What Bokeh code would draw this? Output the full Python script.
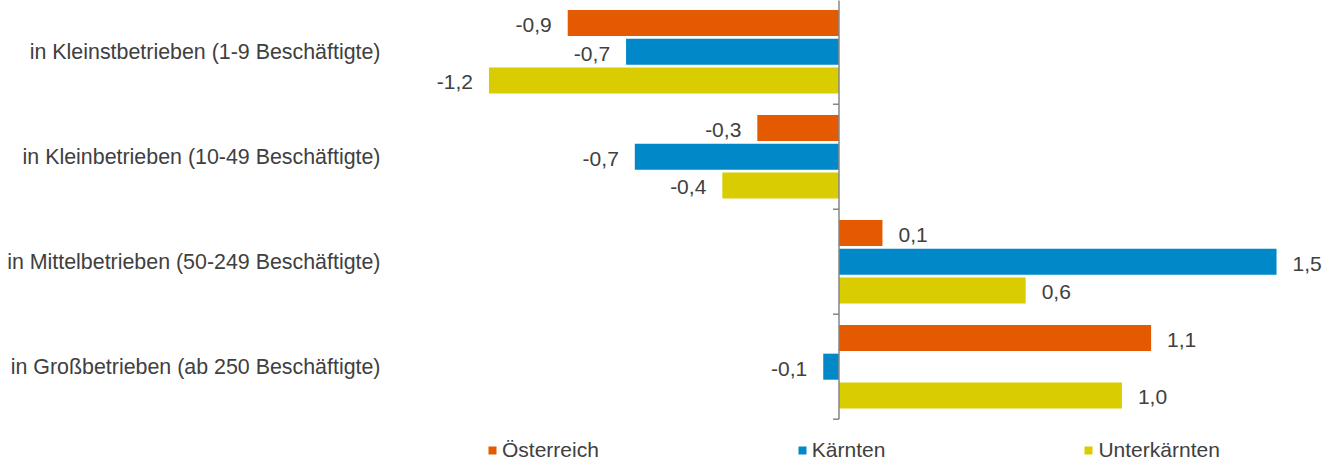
from bokeh.plotting import figure
from bokeh.models import Range1d, FixedTicker, Legend, LegendItem, ColumnDataSource
from bokeh.core.properties import value
from bokeh.embed import file_html
from bokeh.resources import INLINE
import math

categories = [
    "in Kleinstbetrieben (1-9 Beschäftigte)",
    "in Kleinbetrieben (10-49 Beschäftigte)",
    "in Mittelbetrieben (50-249 Beschäftigte)",
    "in Großbetrieben (ab 250 Beschäftigte)",
]
series_names = ["Österreich", "Kärnten", "Unterkärnten"]
oesterreich = [-0.93, -0.28, 0.149, 1.07]
kaernten = [-0.73, -0.70, 1.50, -0.054]
unterkaernten = [-1.20, -0.40, 0.64, 0.97]
colors = ["#E35A00", "#0088C9", "#D9CC00"]

FONT = "Liberation Sans"
TXT = "#404040"

p = figure(width=1333, height=461, output_backend="svg", toolbar_location=None,
           x_range=Range1d(-1.5444, 1.6953), y_range=Range1d(3.903, -0.4876),
           min_border_left=388, min_border_right=0, min_border_top=0, min_border_bottom=0)
p.outline_line_color = None
p.xgrid.visible = False
p.ygrid.visible = False
p.xaxis.visible = False

ax = p.yaxis[0]
ax.ticker = FixedTicker(ticks=list(range(len(categories))))
ax.major_label_overrides = {i: c for i, c in enumerate(categories)}
ax.axis_line_color = None
ax.major_tick_line_color = None
ax.minor_tick_line_color = None
ax.major_tick_out = 0
ax.major_label_standoff = 8
ax.major_label_text_font = FONT
ax.major_label_text_font_size = "21.4px"
ax.major_label_text_color = TXT

pitch = 0.274
bar_h = 0.248
all_series = [oesterreich, kaernten, unterkaernten]
items = []
for k, (name, vals, col) in enumerate(zip(series_names, all_series, colors)):
    ys = [i + (k - 1) * pitch for i in range(len(categories))]
    labels = [f"{v:.1f}".replace(".", ",") for v in vals]
    src = ColumnDataSource(dict(y=ys, v=vals, lab=labels,
                                align=["right" if v < 0 else "left" for v in vals],
                                xo=[-16 if v < 0 else 16 for v in vals]))
    r = p.hbar(y="y", left=0, right="v", height=bar_h, source=src,
               fill_color=col, line_color=None)
    items.append(LegendItem(label=name, renderers=[r]))
    p.text(x="v", y="y", text="lab", source=src, text_align="align",
           x_offset="xo", y_offset=2, text_baseline="middle",
           text_font=value(FONT), text_font_size="21px", text_color=TXT)

n = len(categories)
p.segment(x0=[0], y0=[-0.5], x1=[0], y1=[n - 0.5], line_color="#868686", line_width=1.5)
bounds = [i + 0.5 for i in range(-1, n)]
p.ray(x=[0] * len(bounds), y=bounds, length=6, length_units="screen",
      angle=math.pi, line_color="#868686", line_width=1.5)

legend = Legend(items=items, orientation="horizontal", location=(99, -1),
                spacing=198, glyph_width=10, glyph_height=10, label_standoff=5,
                label_text_font=FONT, label_text_font_size="21px", label_text_color=TXT,
                label_height=21, padding=0, margin=0,
                border_line_color=None, background_fill_alpha=0)
p.add_layout(legend, "center")

open("out.html", "w").write(file_html(p, INLINE))
